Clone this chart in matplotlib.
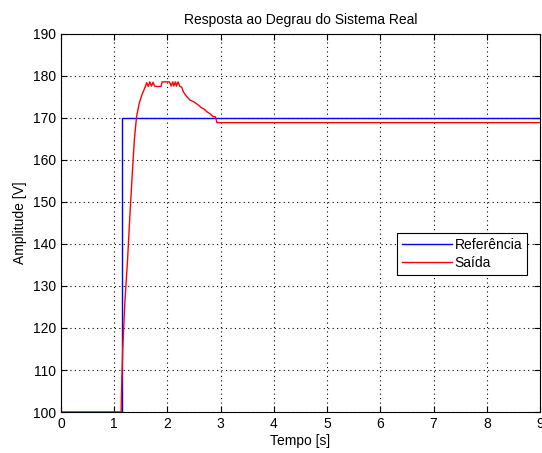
import matplotlib.pyplot as plt

# Reference step (V)
ref_t = [0, 1.14, 1.14, 9.2]
ref_v = [100, 100, 170, 170]

out_t = [0, 1.13, 1.14, 1.16, 1.20, 1.25, 1.30, 1.35, 1.38, 1.42, 1.47, 1.52, 1.58,
         1.61, 1.64, 1.67, 1.70, 1.73, 1.76, 1.80, 1.88, 1.90, 1.95, 2.04, 2.07,
         2.10, 2.12, 2.15, 2.17, 2.20, 2.23, 2.27, 2.30, 2.35, 2.42, 2.50, 2.58,
         2.63, 2.68, 2.74, 2.80, 2.86, 2.90, 2.93, 9.2]
out_v = [100, 100, 106, 115, 126, 136, 148, 159, 165, 170.3, 173.5, 175.5, 177.3,
         178.4, 177.5, 178.6, 177.6, 178.5, 177.6, 177.5, 177.5, 178.6, 178.6, 178.6, 177.6,
         178.6, 177.6, 178.6, 177.6, 178.6, 177.6, 177.3, 176.2, 175.3, 174.3, 173.8, 173.1,
         172.5, 172.2, 171.5, 171.0, 170.3, 170.3, 168.9, 168.9]

plt.rcParams['font.family'] = 'Liberation Sans'

fig = plt.figure(figsize=(5.42, 4.53), dpi=100)
ax = fig.add_axes([0.1125, 0.0905, 0.8838, 0.8345])

ax.plot(ref_t, ref_v, color='#0000ff', linewidth=1.0, label='Referência')
ax.plot(out_t, out_v, color='#ff0000', linewidth=1.0, label='Saída')

ax.set_xlim(0, 9)
ax.set_ylim(100, 190)
ax.set_xticks(range(0, 10))
ax.set_yticks(range(100, 191, 10))
ax.grid(True, linestyle=(0, (1, 3)), color='black', linewidth=0.8)

ax.tick_params(direction='in', top=True, right=True, length=4, labelsize=10)
for s in ax.spines.values():
    s.set_linewidth(0.8)

ax.set_title('Resposta ao Degrau do Sistema Real', fontsize=10, pad=7)
ax.set_xlabel('Tempo [s]', fontsize=10, labelpad=2)
ax.set_ylabel('Amplitude [V]', fontsize=10, labelpad=4)

leg = ax.legend(loc='upper left', bbox_to_anchor=(397 / 542, 1 - 233 / 453),
                bbox_transform=fig.transFigure, fancybox=False, framealpha=1,
                edgecolor='black', fontsize=10, handlelength=3.6,
                borderpad=0.35, labelspacing=0.3, handletextpad=0.2, borderaxespad=0)
leg.get_frame().set_linewidth(0.8)

fig.savefig('out.png', dpi=100)
